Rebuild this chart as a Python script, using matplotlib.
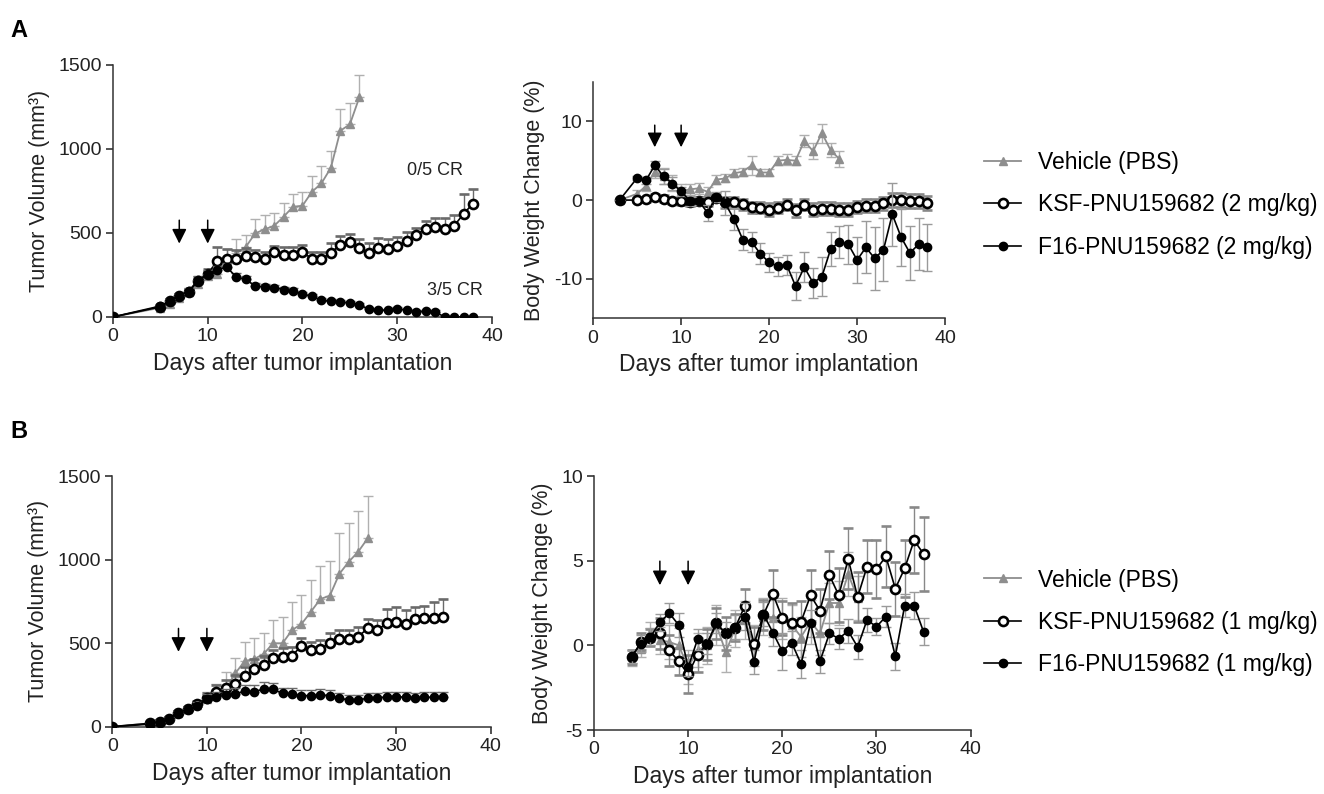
import matplotlib
matplotlib.use('Agg')
import matplotlib.pyplot as plt
from matplotlib.lines import Line2D
import numpy as np

plt.rcParams['font.family'] = ['Liberation Sans', 'DejaVu Sans']
plt.rcParams['axes.unicode_minus'] = False

# ---- panel A, tumor volume ----
a_veh_day = [0] + list(range(5, 27))
a_veh_vol = [0, 55, 80, 115, 150, 195, 245, 258, 335, 378, 415, 497, 522, 542, 596, 656, 662, 745, 795, 888, 1109, 1146, 1307]
a_veh_err = [0, 10, 12, 15, 18, 25, 30, 30, 70, 85, 72, 85, 84, 78, 85, 73, 79, 93, 103, 99, 129, 126, 133]

a_ksf_day = [0] + list(range(5, 39))
a_ksf_vol = [0, 60, 95, 125, 150, 215, 255, 334, 345, 344, 362, 356, 344, 385, 371, 371, 387, 346, 344, 383, 429,
             445, 411, 378, 413, 407, 423, 455, 489, 524, 534, 522, 542, 614, 675]
a_ksf_err = [0, 8, 10, 12, 15, 25, 30, 80, 60, 55, 50, 45, 45, 40, 45, 45, 40, 40, 40, 55, 50,
             50, 55, 60, 55, 55, 55, 50, 40, 50, 55, 65, 65, 117, 86]

a_f16_day = [0] + list(range(5, 39))
a_f16_vol = [0, 65, 95, 125, 155, 220, 255, 280, 298, 238, 224, 185, 179, 175, 163, 155, 135, 123, 99, 93, 89,
             83, 73, 46, 40, 40, 50, 40, 30, 34, 30, 0, 0, 0, 0]
a_f16_err = [0, 8, 10, 12, 15, 25, 25, 25, 25, 25, 20, 15, 15, 15, 15, 15, 15, 15, 12, 12, 12,
             12, 12, 10, 10, 10, 10, 10, 10, 10, 10, 0, 0, 0, 0]

# ---- panel A, body weight ----
a_bw_veh_day = [3] + list(range(5, 29))
a_bw_veh = [0, 0.8, 1.8, 3.6, 3.1, 2.2, 1.2, 1.35, 1.5, 1.05, 2.6, 2.75, 3.4, 3.6, 4.4, 3.5, 3.5, 5.0, 5.1, 5.0,
            7.5, 6.2, 8.5, 6.3, 5.2]
a_bw_veh_err = [0, 0.5, 0.6, 0.8, 1.0, 1.0, 0.9, 0.7, 0.7, 0.6, 0.6, 0.5, 0.5, 0.5, 1.2, 0.5, 0.5, 0.6, 0.7, 0.6,
                0.8, 1.0, 1.2, 0.9, 1.0]

a_bw_day = [3] + list(range(5, 39))
a_bw_ksf = [0, 0, 0.1, 0.4, 0.2, -0.1, -0.1, -0.2, -0.1, -0.2, 0.3, -0.3, -0.3, -0.5, -0.9, -1.0, -1.2, -1.0,
            -0.6, -1.3, -0.6, -1.2, -1.1, -1.1, -1.2, -1.2, -0.9, -0.7, -0.7, -0.4, 0, 0, -0.1, -0.1, -0.4]
a_bw_ksf_err = [0, 0.3, 0.3, 0.4, 0.4, 0.4, 0.5, 0.5, 0.5, 0.6, 0.6, 0.7, 0.7, 0.7, 0.7, 0.7, 0.8, 0.7,
                0.7, 0.8, 0.7, 0.8, 0.8, 0.8, 0.8, 0.8, 0.8, 0.8, 0.8, 0.8, 0.9, 0.9, 0.9, 0.9, 0.9]
a_bw_f16 = [0, 2.8, 2.5, 4.4, 3.0, 2.1, 1.1, -0.1, -0.1, -1.6, 0.4, -0.4, -2.4, -5.0, -5.3, -6.8, -7.9, -8.4,
            -8.2, -10.9, -8.5, -10.5, -9.7, -6.2, -5.3, -5.6, -7.6, -6.0, -7.4, -6.3, -1.8, -4.7, -6.7, -5.6, -6.0]
a_bw_f16_err = [0, 0.3, 0.4, 0.5, 1.0, 0.8, 0.6, 0.6, 0.5, 1.0, 0.6, 1.5, 1.4, 1.3, 1.3, 1.3, 1.2, 1.2,
                1.3, 1.8, 1.9, 1.9, 2.5, 2.2, 2.0, 2.5, 2.9, 3.3, 4.0, 4.0, 4.0, 3.6, 3.4, 3.3, 3.0]

# ---- panel B, tumor volume ----
b_veh_day = [0] + list(range(4, 28))
b_veh_vol = [0, 20, 35, 50, 80, 105, 130, 165, 195, 225, 319, 393, 405, 435, 499, 499, 578, 614, 688, 764, 784,
             914, 987, 1047, 1127]
b_veh_err = [0, 5, 8, 10, 15, 20, 25, 40, 60, 100, 90, 116, 124, 123, 139, 159, 166, 174, 190, 197, 209,
             243, 234, 246, 253]

b_day = [0] + list(range(4, 36))
b_ksf_vol = [0, 20, 30, 48, 84, 104, 136, 170, 209, 229, 253, 303, 343, 369, 409, 419, 425, 483, 457, 465, 503,
             527, 525, 539, 588, 578, 618, 628, 614, 646, 648, 652, 658]
b_ksf_err = [0, 5, 8, 10, 12, 15, 20, 30, 40, 50, 55, 55, 60, 55, 50, 50, 50, 50, 50, 55, 55,
             50, 55, 55, 55, 60, 84, 90, 84, 72, 74, 96, 104]
b_f16_vol = [0, 15, 30, 48, 84, 104, 125, 164, 176, 190, 195, 213, 209, 225, 223, 199, 195, 186, 186, 190, 186,
             170, 160, 160, 170, 170, 180, 180, 176, 172, 176, 176, 180]
b_f16_err = [0, 5, 8, 10, 12, 15, 20, 30, 30, 35, 35, 35, 40, 40, 40, 35, 35, 35, 35, 35, 35,
             30, 30, 30, 30, 30, 30, 30, 30, 30, 30, 30, 30]

# ---- panel B, body weight ----
b_bw_veh_day = list(range(4, 29))
b_bw_veh = [-0.9, -0.2, 0.8, 0.3, 0.2, 0.0, -1.3, -0.3, 0.0, 1.2, -0.4, 1.0, 1.5, 0.0, 1.7, 1.6, 1.6, 1.2, 0.5,
            1.4, 0.7, 2.5, 2.5, 4.2, 2.8]
b_bw_veh_err = [0.3, 0.5, 0.6, 0.8, 1.0, 1.0, 1.0, 1.0, 1.1, 1.2, 1.2, 1.1, 1.1, 1.2, 1.1, 1.1, 1.2, 1.2, 1.2,
                1.3, 1.3, 1.2, 1.3, 1.3, 1.3]

b_bw_day = list(range(4, 36))
b_bw_ksf = [-0.7, 0.2, 0.45, 0.7, -0.3, -0.95, -1.7, -0.55, 0.05, 1.3, 0.7, 1.05, 2.3, 0.1, 1.8, 3.05, 1.6, 1.3,
            1.4, 2.95, 2.05, 4.15, 2.95, 5.1, 2.85, 4.65, 4.5, 5.25, 3.35, 4.55, 6.2, 5.4]
b_bw_ksf_err = [0.4, 0.5, 0.5, 0.9, 0.9, 0.8, 1.1, 1.0, 0.9, 0.9, 1.0, 0.8, 1.0, 1.0, 0.9, 1.4, 1.0, 1.2,
                1.2, 1.5, 1.3, 1.4, 1.6, 1.8, 1.5, 1.55, 1.7, 1.8, 1.6, 1.7, 1.95, 2.2]
b_bw_f16 = [-0.65, 0.1, 0.5, 1.35, 1.9, 1.2, -1.3, 0.35, 0.1, 1.3, 0.7, 1.1, 1.7, -1.0, 1.85, 0.75, -0.35, 0.15,
            -1.1, 1.3, -0.95, 0.7, 0.4, 0.85, -0.1, 1.5, 1.1, 1.7, -0.65, 2.35, 2.35, 0.8]
b_bw_f16_err = [0.4, 0.5, 0.5, 0.5, 0.6, 0.7, 0.5, 0.6, 0.6, 0.6, 0.7, 0.7, 0.8, 0.7, 0.7, 0.8, 1.1, 0.7,
                0.8, 0.8, 0.7, 0.6, 0.6, 0.7, 0.7, 0.7, 0.5, 0.6, 0.8, 0.7, 0.8, 0.8]

labels_a = ['Vehicle (PBS)', 'KSF-PNU159682 (2 mg/kg)', 'F16-PNU159682 (2 mg/kg)']
labels_b = ['Vehicle (PBS)', 'KSF-PNU159682 (1 mg/kg)', 'F16-PNU159682 (1 mg/kg)']
dose_days = [7, 10]

gray = '#8e8e8e'
errgray = '#b0b0b0'
darkerr = '#6a6a6a'


def marker_style(kind):
    if kind == 'veh':
        return dict(color=gray, marker='^', ms=5.5, mfc=gray, mec=gray, lw=1.3)
    if kind == 'ksf':
        return dict(color='black', marker='o', ms=6.5, mfc='white', mec='black', mew=1.9, lw=1.2)
    return dict(color='black', marker='o', ms=6, mfc='black', mec='black', lw=1.2)


def draw(ax, x, y, e, kind, upper_only):
    e = np.array(e, dtype=float)
    yerr = [np.zeros_like(e), e] if upper_only else e
    if kind == 'veh':
        ec, z = errgray, 2
    elif kind == 'ksf':
        ec, z = (darkerr if upper_only else '#888888'), 3
    else:
        ec, z = (darkerr if upper_only else '#9a9a9a'), 4
    ax.errorbar(x, y, yerr=yerr, capsize=3.5, elinewidth=1, capthick=1, ecolor=ec, zorder=z,
                **marker_style(kind))


def style(ax, ylab):
    for s in ['top', 'right']:
        ax.spines[s].set_visible(False)
    for s in ['left', 'bottom']:
        ax.spines[s].set_color('#333333')
        ax.spines[s].set_linewidth(1.1)
    ax.tick_params(direction='out', length=5, width=1.1, labelsize=14, colors='#222222', pad=3)
    ax.set_xlim(0, 40)
    ax.set_xticks([0, 10, 20, 30, 40])
    ax.set_xlabel('Days after tumor implantation', fontsize=16.5, labelpad=5, color='#222222')
    ax.set_ylabel(ylab, fontsize=15.5, color='#222222', labelpad=6)


def arrows(ax, y0, y1):
    for d in dose_days:
        ax.annotate('', xy=(d, y1), xytext=(d, y0),
                    arrowprops=dict(arrowstyle='-|>', color='black', lw=1.1, mutation_scale=22,
                                    shrinkA=0, shrinkB=0))


def legend(labels, ypos):
    hs = [Line2D([], [], **marker_style(k)) for k in ['veh', 'ksf', 'f16']]
    fig.legend(hs, labels, loc='center left', bbox_to_anchor=(0.728, ypos), frameon=False,
               fontsize=16.5, handlelength=1.6, handletextpad=0.75, labelspacing=0.85)


fig = plt.figure(figsize=(13.24, 7.94), dpi=100)

# A left
ax1 = fig.add_axes([0.0853, 0.6008, 0.2863, 0.3174])
draw(ax1, a_veh_day, a_veh_vol, a_veh_err, 'veh', True)
draw(ax1, a_ksf_day, a_ksf_vol, a_ksf_err, 'ksf', True)
draw(ax1, a_f16_day, a_f16_vol, a_f16_err, 'f16', True)
style(ax1, 'Tumor Volume (mm³)')
ax1.set_ylim(0, 1500)
ax1.set_yticks([0, 500, 1000, 1500])
arrows(ax1, 576, 437)
ax1.text(31, 874, '0/5 CR', fontsize=13, va='center', color='#222222')
ax1.text(33.1, 159, '3/5 CR', fontsize=13, va='center', color='#222222')

# A right
ax2 = fig.add_axes([0.448, 0.599, 0.2658, 0.298])
draw(ax2, a_bw_veh_day, a_bw_veh, a_bw_veh_err, 'veh', False)
draw(ax2, a_bw_day, a_bw_ksf, a_bw_ksf_err, 'ksf', False)
draw(ax2, a_bw_day, a_bw_f16, a_bw_f16_err, 'f16', False)
style(ax2, 'Body Weight Change (%)')
ax2.set_ylim(-15, 15)
ax2.set_yticks([-10, 0, 10])
arrows(ax2, 9.5, 6.7)
legend(labels_a, 0.742)

# B left
ax3 = fig.add_axes([0.0848, 0.0848, 0.2858, 0.3157])
draw(ax3, b_veh_day, b_veh_vol, b_veh_err, 'veh', True)
draw(ax3, b_day, b_f16_vol, b_f16_err, 'f16', True)
draw(ax3, b_day, b_ksf_vol, b_ksf_err, 'ksf', True)
style(ax3, 'Tumor Volume (mm³)')
ax3.set_ylim(0, 1500)
ax3.set_yticks([0, 500, 1000, 1500])
arrows(ax3, 588, 448)

# B right
ax4 = fig.add_axes([0.4486, 0.0806, 0.2845, 0.3199])
draw(ax4, b_bw_veh_day, b_bw_veh, b_bw_veh_err, 'veh', False)
draw(ax4, b_bw_day, b_bw_f16, b_bw_f16_err, 'f16', False)
draw(ax4, b_bw_day, b_bw_ksf, b_bw_ksf_err, 'ksf', False)
style(ax4, 'Body Weight Change (%)')
ax4.set_ylim(-5, 10)
ax4.set_yticks([-5, 0, 5, 10])
arrows(ax4, 4.97, 3.55)
legend(labels_b, 0.216)

fig.text(0.008, 0.962, 'A', fontsize=17, fontweight='bold', va='center')
fig.text(0.008, 0.456, 'B', fontsize=17, fontweight='bold', va='center')

fig.savefig('out.png', dpi=100)
